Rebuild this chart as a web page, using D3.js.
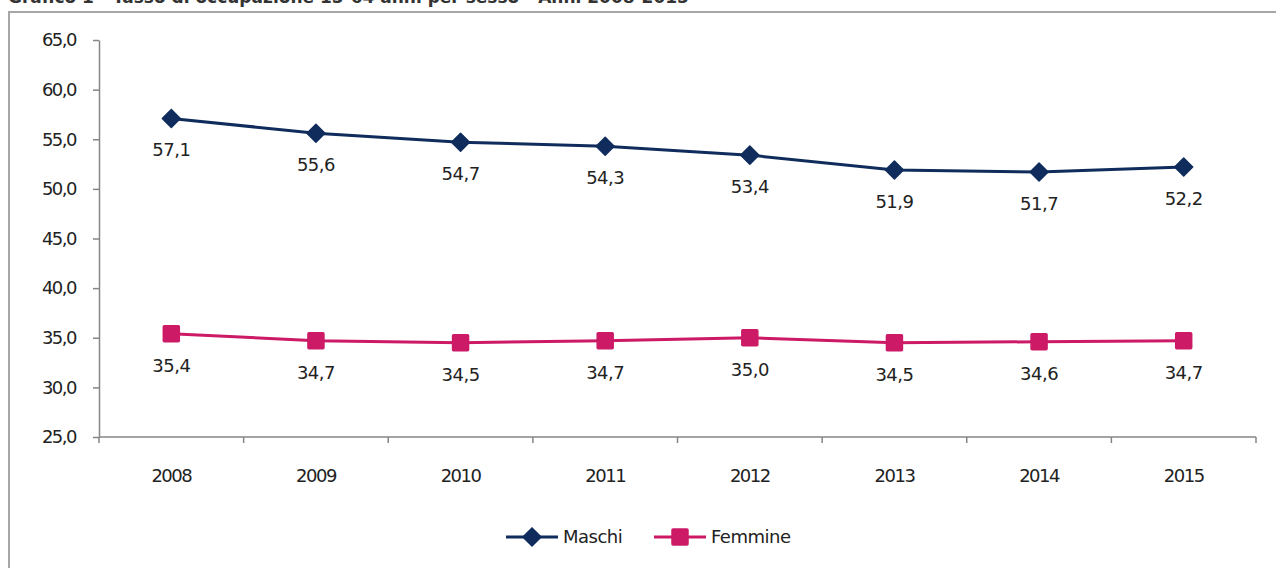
<!DOCTYPE html>
<html>
<head>
<meta charset="utf-8">
<script src="https://cdn.jsdelivr.net/npm/d3@7"></script>
<style>
  body { margin: 0; background: #fff; }
  svg { display: block; font-family: "DejaVu Sans", Verdana, sans-serif; }
</style>
</head>
<body>
<svg id="chart" width="1276" height="568"></svg>
<script>
const years = ["2008", "2009", "2010", "2011", "2012", "2013", "2014", "2015"];
const maschi = [57.1, 55.6, 54.7, 54.3, 53.4, 51.9, 51.7, 52.2];
const femmine = [35.4, 34.7, 34.5, 34.7, 35.0, 34.5, 34.6, 34.7];
const yTicks = [25, 30, 35, 40, 45, 50, 55, 60, 65];
const seriesNames = ["Maschi", "Femmine"];

const margin = { top: 40, right: 20, bottom: 131, left: 99 };
const fmt = (v) => d3.format(".1f")(v).replace(".", ",");

const svg = d3.select("#chart");

// title, mostly cut off at the top of the picture as in the original
svg.append("text")
  .attr("x", 8)
  .attr("y", 3)
  .attr("font-size", "17px")
  .attr("font-weight", "bold")
  .attr("fill", "#333")
  .text("Grafico 1 - Tasso di occupazione 15-64 anni per sesso - Anni 2008-2015");

// chart frame (right and bottom edges fall outside the picture)
svg.append("rect")
  .attr("x", 9)
  .attr("y", 12)
  .attr("width", 1300)
  .attr("height", 600)
  .attr("fill", "none")
  .attr("stroke", "#a6a6a6")
  .attr("stroke-width", 2);

const x = d3.scaleBand()
  .domain(years)
  .range([margin.left, 1256]);

const y = d3.scaleLinear()
  .domain([25, 65])
  .range([437, margin.top]);

const axisColor = "#868686";

const yAxis = svg.append("g")
  .attr("transform", `translate(${margin.left},0)`)
  .call(d3.axisLeft(y).tickValues(yTicks).tickFormat(fmt).tickSize(6).tickPadding(17).tickSizeOuter(0));
yAxis.select(".domain").attr("stroke", axisColor).attr("stroke-width", 1.5);
yAxis.selectAll(".tick line").attr("stroke", axisColor).attr("stroke-width", 1.5);
yAxis.selectAll(".tick text")
  .attr("font-size", "18px")
  .attr("fill", "#222")
  .attr("letter-spacing", "-1.5px")
  .attr("font-family", "DejaVu Sans, sans-serif");

// x axis: ticks at category boundaries
const xg = svg.append("g");
xg.append("line")
  .attr("x1", margin.left).attr("x2", 1256)
  .attr("y1", y(25)).attr("y2", y(25))
  .attr("stroke", axisColor).attr("stroke-width", 1.5);
const bounds = years.map((d) => x(d)).concat([x(years[years.length - 1]) + x.bandwidth()]);
xg.selectAll("line.tick")
  .data(bounds)
  .join("line")
  .attr("class", "tick")
  .attr("x1", (d) => d).attr("x2", (d) => d)
  .attr("y1", y(25)).attr("y2", y(25) + 6)
  .attr("stroke", axisColor).attr("stroke-width", 1.5);
xg.selectAll("text")
  .data(years)
  .join("text")
  .attr("x", (d) => x(d) + x.bandwidth() / 2)
  .attr("y", 482)
  .attr("text-anchor", "middle")
  .attr("font-size", "18px")
  .attr("letter-spacing", "-1.5px")
  .attr("fill", "#222")
  .text((d) => d);

const cx = (i) => x(years[i]) + x.bandwidth() / 2;
const line = d3.line()
  .x((d, i) => cx(i))
  .y((d) => y(d));

const colors = { Maschi: "#0f2c5c", Femmine: "#cc1a66" };

function drawSeries(values, name, marker) {
  const g = svg.append("g");
  g.append("path")
    .datum(values)
    .attr("fill", "none")
    .attr("stroke", colors[name])
    .attr("stroke-width", 3)
    .attr("d", line);
  g.selectAll("path.m")
    .data(values)
    .join("path")
    .attr("class", "m")
    .attr("transform", (d, i) => `translate(${cx(i)},${y(d)})`)
    .attr("d", marker)
    .attr("fill", colors[name])
    .attr("stroke", colors[name])
    .attr("stroke-width", 1.5)
    .attr("stroke-linejoin", "round");
  g.selectAll("text")
    .data(values)
    .join("text")
    .attr("x", (d, i) => cx(i))
    .attr("y", (d) => y(d) + 38)
    .attr("text-anchor", "middle")
    .attr("font-size", "18px")
    .attr("letter-spacing", "-0.5px")
    .attr("fill", "#222")
    .text((d) => fmt(d));
}

const diamond = "M0,-9L9,0L0,9L-9,0Z";
const square = "M-7,-8H7Q8,-8 8,-7V7Q8,8 7,8H-7Q-8,8 -8,7V-7Q-8,-8 -7,-8Z";

drawSeries(maschi, "Maschi", diamond);
drawSeries(femmine, "Femmine", square);

// legend
const legend = [
  { name: seriesNames[0], x0: 506, marker: diamond },
  { name: seriesNames[1], x0: 654, marker: square }
];
const ly = 537;
legend.forEach((l) => {
  svg.append("line")
    .attr("x1", l.x0).attr("x2", l.x0 + 52)
    .attr("y1", ly).attr("y2", ly)
    .attr("stroke", colors[l.name]).attr("stroke-width", 3);
  svg.append("path")
    .attr("transform", `translate(${l.x0 + 26},${ly})`)
    .attr("d", l.marker)
    .attr("fill", colors[l.name])
    .attr("stroke", colors[l.name])
    .attr("stroke-width", 1.5);
  svg.append("text")
    .attr("x", l.x0 + 57)
    .attr("y", ly + 6)
    .attr("font-size", "18px")
    .attr("letter-spacing", "-0.5px")
    .attr("fill", "#222")
    .text(l.name);
});
</script>
</body>
</html>
